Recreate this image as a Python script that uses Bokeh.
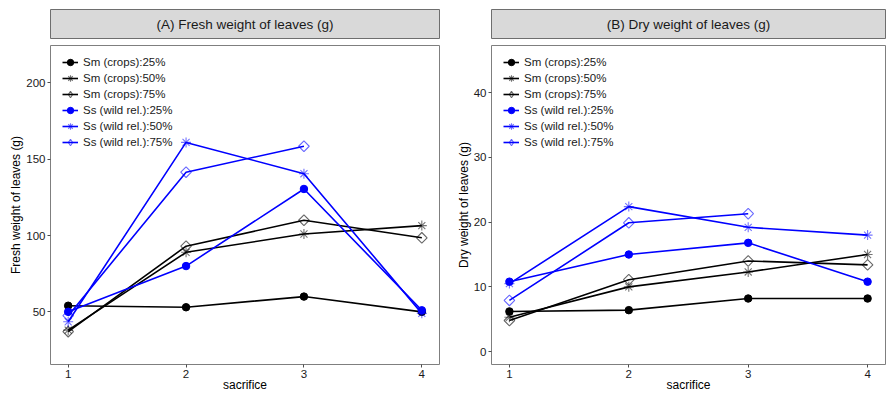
import math
from bokeh.plotting import figure
from bokeh.layouts import row, column
from bokeh.models import Range1d, FixedTicker, ColumnDataSource, Legend, LegendItem
from bokeh.embed import file_html
from bokeh.resources import INLINE
from bokeh.core.properties import value

NaN = float("nan")

# ---------------- data ----------------
sacrifice = [1, 2, 3, 4]
x_ticks = [1, 2, 3, 4]

series_labels = [
    "Sm (crops):25%", "Sm (crops):50%", "Sm (crops):75%",
    "Ss (wild rel.):25%", "Ss (wild rel.):50%", "Ss (wild rel.):75%",
]

# (A) Fresh weight of leaves (g)
fresh_sm_25 = [54, 53, 60, 50]
fresh_sm_50 = [38, 89, 101, 106.5]
fresh_sm_75 = [37, 93, 110, 98.5]
fresh_ss_25 = [50, 80, 130.5, 51]
fresh_ss_50 = [43.5, 161, 140.5, 49]
fresh_ss_75 = [47.5, 141.5, 158.5, NaN]
fresh_ticks = [50, 100, 150, 200]

# (B) Dry weight of leaves (g)
dry_sm_25 = [6.2, 6.4, 8.2, 8.2]
dry_sm_50 = [5.3, 10.0, 12.3, 15.0]
dry_sm_75 = [4.8, 11.1, 14.0, 13.4]
dry_ss_25 = [10.8, 15.0, 16.8, 10.8]
dry_ss_50 = [10.5, 22.4, 19.2, 18.0]
dry_ss_75 = [7.9, 19.9, 21.3, NaN]
dry_ticks = [0, 10, 20, 30, 40]

# ---------------- styling ----------------
FONT = "Liberation Sans"
SM_COLOR = "#000000"
SS_COLOR = "#0000FF"
series_colors = [SM_COLOR, SM_COLOR, SM_COLOR, SS_COLOR, SS_COLOR, SS_COLOR]
series_markers = ["circle", "asterisk", "diamond", "circle", "asterisk", "diamond"]

BORDER = "#7F7F7F"


def make_panel(title, ylabel, ys, y_start, y_end, yticks, width, L, R):
    strip = figure(width=width, height=39, x_range=Range1d(0, 1), y_range=Range1d(0, 1),
                   toolbar_location=None, output_backend="svg",
                   x_axis_location=None, y_axis_location=None,
                   min_border_left=L, min_border_right=R, min_border_top=9, min_border_bottom=1)
    strip.grid.visible = False
    strip.background_fill_color = "#D9D9D9"
    strip.outline_line_color = "#6E6E6E"
    strip.outline_line_width = 1
    strip.text(x=[0.5], y=[0.5], text=[title], text_align="center", text_baseline="middle",
               text_font=value(FONT), text_font_size="13.5px", text_color="#1A1A1A")

    p = figure(width=width, height=355, x_range=Range1d(0.85, 4.15), y_range=Range1d(y_start, y_end),
               toolbar_location=None, output_backend="svg",
               min_border_left=L, min_border_right=R, min_border_top=6, min_border_bottom=30)
    p.grid.visible = False
    p.outline_line_color = BORDER
    p.outline_line_width = 1

    items = []
    for i, yv in enumerate(ys):
        col = series_colors[i]
        src = ColumnDataSource(dict(x=sacrifice, y=yv))
        ln = p.line("x", "y", source=src, line_color=col, line_width=1.6)
        m = series_markers[i]
        if m == "circle":
            sc = p.scatter("x", "y", source=src, marker="circle", size=7.5, fill_color=col,
                           line_color=col)
            leg = sc
        elif m == "asterisk":
            sc = p.scatter("x", "y", source=src, marker="asterisk", size=10, line_color=col,
                           line_alpha=0.55, line_width=1.1)
            leg = sc
        else:
            sc = p.scatter("x", "y", source=src, marker="square", angle=math.pi / 4, size=7.5,
                           fill_color=None, line_color=col, line_alpha=0.6, line_width=1.1)
            # legend-only marker (unrotated diamond), no visible point in the plot
            leg_src = ColumnDataSource(dict(x=[NaN], y=[NaN]))
            leg = p.scatter("x", "y", source=leg_src, marker="diamond", size=9,
                            fill_color=None, line_color=col, line_alpha=0.6, line_width=1.1)
        items.append(LegendItem(label=series_labels[i], renderers=[ln, leg]))

    for ax in (p.xaxis[0], p.yaxis[0]):
        ax.axis_line_color = None
        ax.major_tick_line_color = "#4D4D4D"
        ax.major_tick_out = 3
        ax.major_tick_in = 0
        ax.minor_tick_line_color = None
        ax.major_label_text_font = FONT
        ax.major_label_text_font_size = "11.5px"
        ax.major_label_text_color = "#1A1A1A"
        ax.major_label_standoff = 2
        ax.axis_label_text_font = FONT
        ax.axis_label_text_font_size = "12px"
        ax.axis_label_text_font_style = "normal"
        ax.axis_label_text_color = "#000000"
        ax.axis_label_standoff = 0

    p.xaxis[0].axis_label_standoff = -3
    p.xaxis.ticker = FixedTicker(ticks=x_ticks)
    p.yaxis.ticker = FixedTicker(ticks=yticks)
    p.xaxis.axis_label = "sacrifice"
    p.yaxis.axis_label = ylabel

    lg = Legend(items=items, location=(12, 214), margin=0, padding=0, spacing=0,
                label_height=16, glyph_height=16, glyph_width=16, label_standoff=5,
                label_text_font=FONT, label_text_font_size="11.5px",
                label_text_color="#1A1A1A", border_line_color=None,
                background_fill_alpha=0)
    p.add_layout(lg, "center")

    return column(strip, p, spacing=0)


panel_a = make_panel("(A) Fresh weight of leaves (g)", "Fresh weight of leaves (g)",
                     [fresh_sm_25, fresh_sm_50, fresh_sm_75, fresh_ss_25, fresh_ss_50, fresh_ss_75],
                     15.5, 224.5, fresh_ticks, 443, 50, 4)
panel_b = make_panel("(B) Dry weight of leaves (g)", "Dry weight of leaves (g)",
                     [dry_sm_25, dry_sm_50, dry_sm_75, dry_ss_25, dry_ss_50, dry_ss_75],
                     -2.0, 47.3, dry_ticks, 443, 48, 1)

layout = row(panel_a, panel_b, spacing=0)

open("out.html", "w").write(file_html(layout, INLINE))
